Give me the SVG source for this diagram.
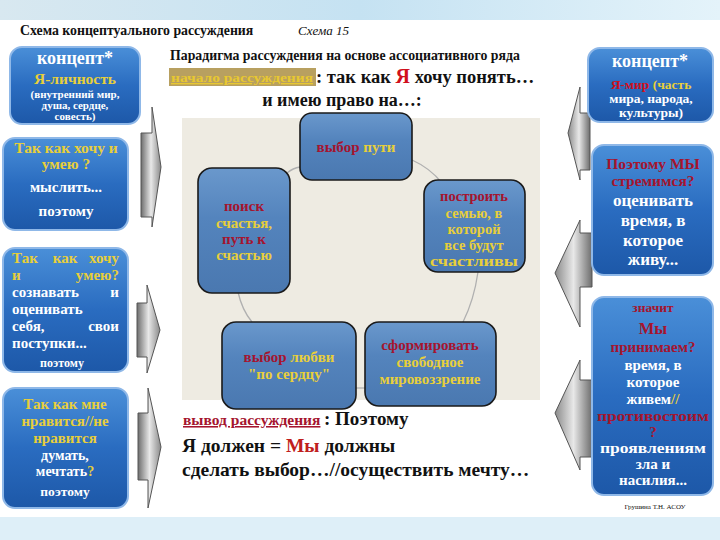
<svg xmlns="http://www.w3.org/2000/svg" width="720" height="540" viewBox="0 0 720 540">
<defs>
<linearGradient id="hdr" x1="0" y1="0" x2="1" y2="0"><stop offset="0" stop-color="#d8e8f0"/><stop offset="0.5" stop-color="#c5e2f2"/><stop offset="1" stop-color="#e4f3fa"/></linearGradient>
<linearGradient id="bx" x1="0" y1="0" x2="0" y2="1"><stop offset="0" stop-color="#4a8fd8"/><stop offset="0.5" stop-color="#2a6cc0"/><stop offset="1" stop-color="#1d58a8"/></linearGradient>
<linearGradient id="nd" x1="0" y1="0" x2="0" y2="1"><stop offset="0" stop-color="#6a98cc"/><stop offset="0.4" stop-color="#5484bd"/><stop offset="1" stop-color="#4a78b0"/></linearGradient>
<linearGradient id="arR" x1="0" y1="0" x2="1" y2="0"><stop offset="0" stop-color="#6d6d6d"/><stop offset="0.5" stop-color="#e8e8e8"/><stop offset="1" stop-color="#8a8a8a"/></linearGradient>
<linearGradient id="arL" x1="1" y1="0" x2="0" y2="0"><stop offset="0" stop-color="#6d6d6d"/><stop offset="0.5" stop-color="#e8e8e8"/><stop offset="1" stop-color="#8a8a8a"/></linearGradient>
</defs>
<style>
text{font-family:"Liberation Serif","Times New Roman",serif;font-weight:bold}
.box{fill:url(#bx);stroke:#8fb8e8;stroke-width:2}
.node{fill:url(#nd);stroke:#1a1a1a;stroke-width:1.6}
.w{fill:#ffffff}
.y{fill:#e8cf3a}
.r{fill:#a5142e}
.rr{fill:#d0101c}
.k{fill:#111111}
.c{text-anchor:middle}
.e{text-anchor:end}
.arr{fill:url(#arR);stroke:#555;stroke-width:1}
.arl{fill:url(#arL);stroke:#555;stroke-width:1}
.conn{fill:none;stroke:#b0b0b0;stroke-width:1.3}
</style>
<rect width="720" height="540" fill="#ffffff"/>
<rect width="720" height="20" fill="url(#hdr)"/>
<rect y="517" width="720" height="23" fill="#deeff8"/>

<text x="20" y="35" font-size="13.8" class="k">Схема концептуального рассуждения</text>
<text x="298" y="35" font-size="13" font-style="italic" class="k" style="font-weight:normal">Схема 15</text>

<g id="header-text">
<text x="170" y="60" font-size="13.8" class="k">Парадигма рассуждения на основе ассоциативного ряда</text>
<rect x="169" y="68" width="147" height="18" fill="#b8a060"/>
<text x="171" y="82" font-size="13.5" fill="#e8c830" text-decoration="underline" textLength="142" lengthAdjust="spacingAndGlyphs">начало рассуждения</text>
<text x="316" y="83" font-size="18.5" class="k">: так как <tspan class="rr" font-size="20">Я</tspan> хочу понять…</text>
<text x="342" y="106" font-size="18" class="k c">и имею право на…:</text>
</g>

<rect x="182" y="118" width="358" height="282" fill="#eeebe2"/>

<g id="connectors">
<path class="conn" d="M300,167 Q293,168 287,173"/>
<path class="conn" d="M412,160 Q430,168 442,183"/>
<path class="conn" d="M238,292 Q242,310 252,322"/>
<path class="conn" d="M478,272 Q474,300 463,322"/>
<path class="conn" d="M356,388 L365,388"/>
<polygon class="arr" points="141,133 152,133 152,107 161,167 152,227 152,217 141,217"/>
<polygon class="arr" points="137,303 147,303 147,285 160,330 147,373 147,357 137,357"/>
<polygon class="arr" points="138,413 148,413 148,388 161,447 148,508 148,480 138,480"/>
<polygon class="arl" points="590,113 580,113 580,87 568,133 580,180 580,170 590,170"/>
<polygon class="arl" points="592,233 580,233 580,220 555,273 580,327 580,287 592,287"/>
<polygon class="arl" points="592,380 580,380 580,360 555,413 580,470 580,457 592,457"/>
</g>

<g id="concept-self">
<rect class="box" x="10" y="47" width="130" height="77" rx="12"/>
<text x="75" y="64" font-size="18" class="w c">концепт*</text>
<text x="75" y="84" font-size="15.5" class="y c">Я-личность</text>
<text x="75" y="98" font-size="11" class="w c">(внутренний мир,</text>
<text x="75" y="109" font-size="11" class="w c">душа, сердце,</text>
<text x="75" y="120" font-size="11" class="w c">совесть)</text>
</g>

<g id="box-think">
<rect class="box" x="3" y="138" width="125" height="92" rx="12"/>
<text x="66" y="153" font-size="15.5" class="y c">Так как хочу и</text>
<text x="66" y="169" font-size="15.5" class="y c">умею ?</text>
<text x="66" y="192" font-size="15" class="w c">мыслить...</text>
<text x="66" y="216" font-size="15" class="w c">поэтому</text>
</g>

<g id="box-aware">
<rect class="box" x="3" y="248" width="125" height="124" rx="12"/>
<g font-size="15">
<text x="12" y="263" class="y">Так</text><text x="65" y="263" class="y c">как</text><text x="119" y="263" class="y e">хочу</text>
<text x="12" y="280" class="y">и</text><text x="119" y="280" class="y e">умею?</text>
<text x="12" y="297" class="w">сознавать</text><text x="119" y="297" class="w e">и</text>
<text x="12" y="314" class="w">оценивать</text>
<text x="12" y="331" class="w">себя,</text><text x="119" y="331" class="w e">свои</text>
<text x="12" y="348" class="w">поступки...</text>
</g>
<text x="62" y="367" font-size="12" class="w c">поэтому</text>
</g>

<g id="box-dream">
<rect class="box" x="3" y="388" width="125" height="120" rx="12"/>
<text x="65" y="409" font-size="15" class="y c">Так как мне</text>
<text x="65" y="426" font-size="15" class="y c">нравится//не</text>
<text x="65" y="443" font-size="15" class="y c">нравится</text>
<text x="65" y="460" font-size="14" class="w c">думать,</text>
<text x="65" y="476" font-size="14" class="w c">мечтать<tspan class="y">?</tspan></text>
<text x="65" y="496" font-size="13.5" class="w c">поэтому</text>
</g>

<g id="concept-world">
<rect class="box" x="588" y="48" width="125" height="74" rx="12"/>
<text x="650" y="67" font-size="18" class="w c">концепт*</text>
<text x="651" y="89" font-size="13.5" class="y c"><tspan class="rr">Я-мир</tspan> (часть</text>
<text x="651" y="103" font-size="13.5" class="w c">мира, народа,</text>
<text x="651" y="117" font-size="13.5" class="w c">культуры)</text>
</g>

<g id="box-strive">
<rect class="box" x="592" y="145" width="121" height="130" rx="12"/>
<text x="653" y="169" font-size="15.5" class="r c">Поэтому МЫ</text>
<text x="653" y="186" font-size="15.5" class="r c">стремимся?</text>
<text x="653" y="206" font-size="17" class="w c">оценивать</text>
<text x="653" y="226" font-size="17" class="w c">время, в</text>
<text x="653" y="246" font-size="17" class="w c">которое</text>
<text x="653" y="265" font-size="17" class="w c">живу...</text>
</g>

<g id="box-accept">
<rect class="box" x="592" y="297" width="121" height="198" rx="12"/>
<text x="653" y="312" font-size="13.5" class="r c">значит</text>
<text x="653" y="334" font-size="16.5" class="r c">Мы</text>
<text x="653" y="352" font-size="15" class="r c">принимаем?</text>
<text x="653" y="370" font-size="15" class="w c">время, в</text>
<text x="653" y="387" font-size="15" class="w c">которое</text>
<text x="653" y="404" font-size="15" class="w c">живем<tspan class="y">//</tspan></text>
<text x="653" y="421" font-size="15" class="r c" textLength="112" lengthAdjust="spacingAndGlyphs">противостоим</text>
<text x="653" y="437" font-size="15" class="r c">?</text>
<text x="653" y="453" font-size="15" class="w c" textLength="106" lengthAdjust="spacingAndGlyphs">проявлениям</text>
<text x="653" y="469" font-size="15" class="w c">зла и</text>
<text x="653" y="485" font-size="15" class="w c">насилия...</text>
</g>
<text x="655" y="509" font-size="7" class="k c" style="font-weight:normal">Грушина Т.Н. АСОУ</text>

<g id="node-path">
<rect class="node" x="300" y="113" width="112" height="67" rx="12"/>
<text x="356" y="152" font-size="15" class="c"><tspan class="r">выбор</tspan> <tspan class="y">пути</tspan></text>
</g>
<g id="node-family">
<rect class="node" x="424" y="180" width="101" height="92" rx="14"/>
<text x="474" y="201" font-size="14.5" class="r c">построить</text>
<text x="474" y="218" font-size="14.5" class="y c">семью, в</text>
<text x="474" y="234" font-size="14.5" class="y c">которой</text>
<text x="474" y="250" font-size="14.5" class="y c">все будут</text>
<text x="474" y="266" font-size="14.5" class="y c" textLength="88" lengthAdjust="spacingAndGlyphs">счастливы</text>
</g>
<g id="node-happiness">
<rect class="node" x="198" y="168" width="92" height="125" rx="14"/>
<text x="244" y="211" font-size="15" class="r c">поиск</text>
<text x="244" y="228" font-size="15" class="y c">счастья,</text>
<text x="244" y="244" font-size="15" class="r c">путь к</text>
<text x="244" y="260" font-size="15" class="y c">счастью</text>
</g>
<g id="node-love">
<rect class="node" x="222" y="322" width="134" height="87" rx="14"/>
<text x="289" y="362" font-size="15" class="c"><tspan class="r">выбор</tspan> <tspan class="y">любви</tspan></text>
<text x="289" y="379" font-size="15" class="y c">"по сердцу"</text>
</g>
<g id="node-worldview">
<rect class="node" x="365" y="322" width="131" height="84" rx="14"/>
<text x="430" y="350" font-size="15" class="r c">сформировать</text>
<text x="430" y="367" font-size="15" class="y c">свободное</text>
<text x="430" y="384" font-size="15" class="y c">мировоззрение</text>
</g>

<g id="conclusion">
<text x="183" y="425" font-size="15.5" class="r" text-decoration="underline">вывод рассуждения</text>
<text x="324" y="425" font-size="19" class="k">: Поэтому</text>
<text x="182" y="452" font-size="19.5" class="k">Я должен = <tspan fill="#c0201c">Мы</tspan> должны</text>
<text x="182" y="476" font-size="19.5" class="k">сделать выбор…//осуществить мечту…</text>
</g>
</svg>
